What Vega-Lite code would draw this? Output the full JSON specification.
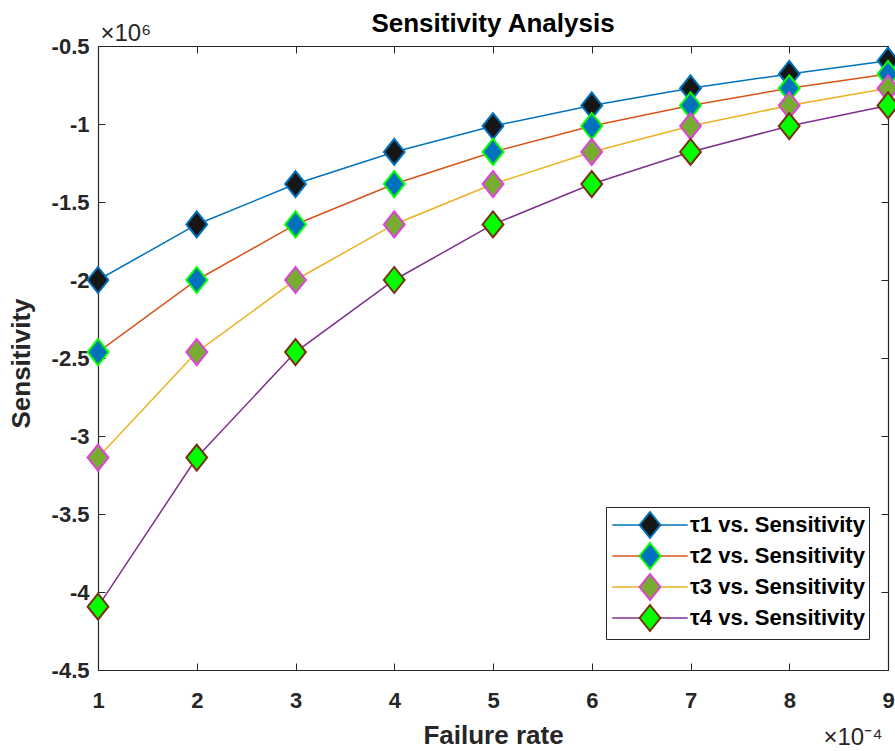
{
  "$schema": "https://vega.github.io/schema/vega-lite/v6.json",
  "width": 790,
  "height": 624,
  "autosize": {"type": "none"},
  "padding": {"left": 98, "top": 46, "right": 7, "bottom": 81},
  "background": "white",
  "title": {"text": "Sensitivity Analysis", "font": "Liberation Sans", "fontSize": 26, "fontWeight": "bold", "color": "#000000", "anchor": "middle", "baseline": "alphabetic", "offset": -37},
  "config": {
    "view": {"stroke": null},
    "axis": {"grid": false, "domainColor": "#262626", "domainWidth": 1.2, "tickColor": "#262626", "tickSize": -7, "tickWidth": 1, "labelFont": "Liberation Sans", "labelFontSize": 22, "labelFontWeight": "bold", "labelColor": "#262626", "labelFlush": false, "labelOverlap": false, "titleFont": "Liberation Sans", "titleFontSize": 26, "titleFontWeight": "bold", "titleColor": "#262626"}
  },
  "data": {"values": [
    {"series": "τ1 vs. Sensitivity", "rate": 1, "sensitivity": -2.0},
    {"series": "τ1 vs. Sensitivity", "rate": 2, "sensitivity": -1.644},
    {"series": "τ1 vs. Sensitivity", "rate": 3, "sensitivity": -1.385},
    {"series": "τ1 vs. Sensitivity", "rate": 4, "sensitivity": -1.179},
    {"series": "τ1 vs. Sensitivity", "rate": 5, "sensitivity": -1.013},
    {"series": "τ1 vs. Sensitivity", "rate": 6, "sensitivity": -0.881},
    {"series": "τ1 vs. Sensitivity", "rate": 7, "sensitivity": -0.771},
    {"series": "τ1 vs. Sensitivity", "rate": 8, "sensitivity": -0.679},
    {"series": "τ1 vs. Sensitivity", "rate": 9, "sensitivity": -0.594},
    {"series": "τ2 vs. Sensitivity", "rate": 1, "sensitivity": -2.462},
    {"series": "τ2 vs. Sensitivity", "rate": 2, "sensitivity": -2.0},
    {"series": "τ2 vs. Sensitivity", "rate": 3, "sensitivity": -1.644},
    {"series": "τ2 vs. Sensitivity", "rate": 4, "sensitivity": -1.385},
    {"series": "τ2 vs. Sensitivity", "rate": 5, "sensitivity": -1.179},
    {"series": "τ2 vs. Sensitivity", "rate": 6, "sensitivity": -1.013},
    {"series": "τ2 vs. Sensitivity", "rate": 7, "sensitivity": -0.881},
    {"series": "τ2 vs. Sensitivity", "rate": 8, "sensitivity": -0.771},
    {"series": "τ2 vs. Sensitivity", "rate": 9, "sensitivity": -0.679},
    {"series": "τ3 vs. Sensitivity", "rate": 1, "sensitivity": -3.138},
    {"series": "τ3 vs. Sensitivity", "rate": 2, "sensitivity": -2.462},
    {"series": "τ3 vs. Sensitivity", "rate": 3, "sensitivity": -2.0},
    {"series": "τ3 vs. Sensitivity", "rate": 4, "sensitivity": -1.644},
    {"series": "τ3 vs. Sensitivity", "rate": 5, "sensitivity": -1.385},
    {"series": "τ3 vs. Sensitivity", "rate": 6, "sensitivity": -1.179},
    {"series": "τ3 vs. Sensitivity", "rate": 7, "sensitivity": -1.013},
    {"series": "τ3 vs. Sensitivity", "rate": 8, "sensitivity": -0.881},
    {"series": "τ3 vs. Sensitivity", "rate": 9, "sensitivity": -0.771},
    {"series": "τ4 vs. Sensitivity", "rate": 1, "sensitivity": -4.094},
    {"series": "τ4 vs. Sensitivity", "rate": 2, "sensitivity": -3.138},
    {"series": "τ4 vs. Sensitivity", "rate": 3, "sensitivity": -2.462},
    {"series": "τ4 vs. Sensitivity", "rate": 4, "sensitivity": -2.0},
    {"series": "τ4 vs. Sensitivity", "rate": 5, "sensitivity": -1.644},
    {"series": "τ4 vs. Sensitivity", "rate": 6, "sensitivity": -1.385},
    {"series": "τ4 vs. Sensitivity", "rate": 7, "sensitivity": -1.179},
    {"series": "τ4 vs. Sensitivity", "rate": 8, "sensitivity": -1.013},
    {"series": "τ4 vs. Sensitivity", "rate": 9, "sensitivity": -0.881}
  ]},
  "layer": [
    {
      "mark": {"type": "line", "strokeWidth": 1.5},
      "encoding": {
        "x": {"field": "rate", "type": "quantitative", "scale": {"domain": [1, 9], "nice": false, "zero": false},
          "axis": {"orient": "bottom", "values": [1, 2, 3, 4, 5, 6, 7, 8, 9], "labelExpr": "'' + datum.value", "labelPadding": 27, "title": "Failure rate", "titleBaseline": "alphabetic", "titleY": 73}},
        "y": {"field": "sensitivity", "type": "quantitative", "scale": {"domain": [-4.5, -0.5], "nice": false, "zero": false},
          "axis": {"orient": "left", "values": [-4.5, -4, -3.5, -3, -2.5, -2, -1.5, -1, -0.5], "labelExpr": "'' + datum.value", "labelPadding": 16, "title": "Sensitivity", "titleX": -69, "titleY": 317, "titleBaseline": "alphabetic", "titleAngle": -90}},
        "color": {"field": "series", "type": "nominal",
          "scale": {"range": ["#0072BD", "#D95319", "#EDB120", "#7E2F8E"]},
          "legend": {"orient": "none", "legendX": 508, "legendY": 461, "title": null, "direction": "vertical", "symbolType": "M-2.9,0L2.9,0M0,-1.02M0,1.02", "symbolSize": 676, "symbolStrokeWidth": 1.5, "symbolOffset": 26, "labelFont": "Liberation Sans", "labelFontSize": 22, "labelFontWeight": "bold", "labelColor": "#000000", "labelOffset": 26, "labelLimit": 400, "rowPadding": -3, "padding": 4, "strokeColor": "#262626", "fillColor": "white"}}
      }
    },
    {
      "mark": {"type": "point", "shape": "M0,-1L0.8,0L0,1L-0.8,0Z", "size": 676, "filled": true, "opacity": 1, "strokeWidth": 2},
      "encoding": {
        "x": {"field": "rate", "type": "quantitative",
          "axis": {"orient": "top", "values": [1, 2, 3, 4, 5, 6, 7, 8, 9], "labels": false, "title": "×10⁶", "titleX": 2, "titleY": -6, "titleAlign": "left", "titleBaseline": "alphabetic", "titleAngle": 0, "titleFontWeight": "normal", "titleFontSize": 24}},
        "y": {"field": "sensitivity", "type": "quantitative",
          "axis": {"orient": "right", "values": [-4.5, -4, -3.5, -3, -2.5, -2, -1.5, -1, -0.5], "labels": false, "title": "×10⁻⁴", "titleX": -6, "titleY": 698, "titleAlign": "right", "titleBaseline": "alphabetic", "titleAngle": 0, "titleFontWeight": "normal", "titleFontSize": 24}},
        "fill": {"field": "series", "type": "nominal",
          "scale": {"domain": ["τ1 vs. Sensitivity", "τ2 vs. Sensitivity", "τ3 vs. Sensitivity", "τ4 vs. Sensitivity"], "range": ["#161616", "#0072BD", "#77AC30", "#00FF00"]},
          "legend": {"orient": "none", "legendX": 508, "legendY": 461, "title": null, "direction": "vertical", "symbolType": "M-2.9,0M2.9,0M0,-1L0.8,0L0,1L-0.8,0Z", "symbolSize": 676, "symbolStrokeWidth": 2, "symbolOffset": 26, "symbolOpacity": 1, "labelFont": "Liberation Sans", "labelFontSize": 22, "labelFontWeight": "bold", "labelOpacity": 0, "labelOffset": 26, "labelLimit": 400, "rowPadding": -3, "padding": 4}},
        "stroke": {"field": "series", "type": "nominal",
          "scale": {"domain": ["τ1 vs. Sensitivity", "τ2 vs. Sensitivity", "τ3 vs. Sensitivity", "τ4 vs. Sensitivity"], "range": ["#0072BD", "#00FF00", "#E040E0", "#7A2E14"]},
          "legend": {"orient": "none", "legendX": 508, "legendY": 461, "title": null, "direction": "vertical", "symbolType": "M-2.9,0M2.9,0M0,-1L0.8,0L0,1L-0.8,0Z", "symbolSize": 676, "symbolStrokeWidth": 2, "symbolOffset": 26, "symbolOpacity": 1, "labelFont": "Liberation Sans", "labelFontSize": 22, "labelFontWeight": "bold", "labelOpacity": 0, "labelOffset": 26, "labelLimit": 400, "rowPadding": -3, "padding": 4}}
      }
    }
  ],
  "resolve": {"axis": {"x": "independent", "y": "independent"}}
}
